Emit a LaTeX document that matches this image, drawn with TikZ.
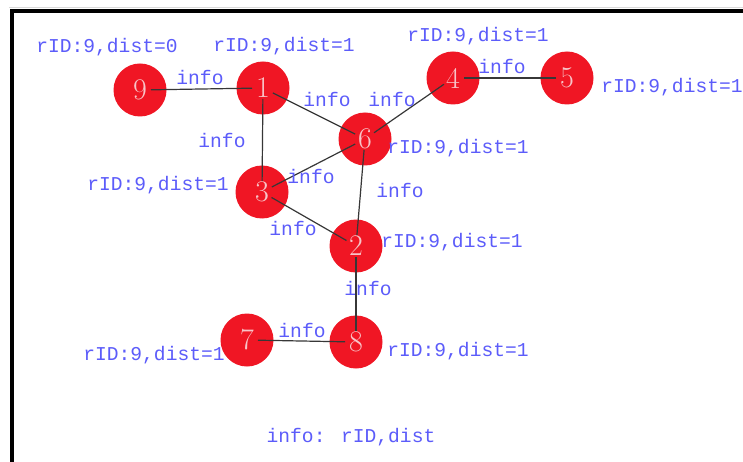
\documentclass[tikz,border=0pt]{standalone}
\usepackage{fontspec}
\newfontfamily\labfont{Liberation Mono}
\definecolor{nodered}{RGB}{240,22,36}
\definecolor{numcol}{RGB}{248,196,200}
\definecolor{labblue}{RGB}{92,92,250}
\definecolor{edgecol}{RGB}{55,55,55}
\begin{document}
\begin{tikzpicture}[x=1pt,y=-1pt,
  vert/.style={circle,fill=nodered,minimum size=53pt,inner sep=0pt,text=numcol,
    font=\fontsize{30}{30}\selectfont},
  lab/.style={text=labblue,inner sep=0pt,font=\labfont\fontsize{19.6}{20}\selectfont},
  edge/.style={draw=edgecol,line width=1.2pt,shorten >=11pt,shorten <=11pt}]
\useasboundingbox (0,0) rectangle (743,462);
\fill[white] (0,0) rectangle (743,462);
% frame
\draw[black!15,line width=1pt] (9,8) -- (743,8);
\draw[black,line width=3.5pt] (12,462) -- (12,11) -- (743,11);
% nodes
\node[vert] (n9) at (140,90) {9};
\node[vert] (n1) at (263,88) {1};
\node[vert] (n4) at (453,78) {4};
\node[vert] (n5) at (567,78) {5};
\node[vert] (n6) at (365,139) {6};
\node[vert] (n3) at (262,192) {3};
\node[vert] (n2) at (356,246) {2};
\node[vert] (n7) at (247,340) {7};
\node[vert] (n8) at (356,342) {8};
% edges
\draw[edge] (n9.center) -- (n1.center);
\draw[edge] (n1.center) -- (n6.center);
\draw[edge] (n1.center) -- (n3.center);
\draw[edge] (n6.center) -- (n4.center);
\draw[edge] (n4.center) -- (n5.center);
\draw[edge] (n3.center) -- (n6.center);
\draw[edge] (n6.center) -- (n2.center);
\draw[edge] (n3.center) -- (n2.center);
\draw[edge] (n2.center) -- (n8.center);
\draw[edge] (n7.center) -- (n8.center);
% node labels
\node[lab] (l9) at (107,47) {rID:9,dist=0};
\node[lab] (l1) at (284,46) {rID:9,dist=1};
\node[lab] (l4) at (478,36) {rID:9,dist=1};
\node[lab] (l5) at (672,87) {rID:9,dist=1};
\node[lab] (l6) at (458,148) {rID:9,dist=1};
\node[lab] (l3) at (158,185) {rID:9,dist=1};
\node[lab] (l2) at (452,242) {rID:9,dist=1};
\node[lab] (l7) at (154,355) {rID:9,dist=1};
\node[lab] (l8) at (458,351) {rID:9,dist=1};
% edge labels
\node[lab] (e91) at (200,77) {info};
\node[lab] (e16) at (327,99) {info};
\node[lab] (e64) at (392,99) {info};
\node[lab] (e45) at (502,66) {info};
\node[lab] (e13) at (222,140) {info};
\node[lab] (e36) at (311,176) {info};
\node[lab] (e62) at (400,190) {info};
\node[lab] (e32) at (293,228) {info};
\node[lab] (e28) at (368,288) {info};
\node[lab] (e78) at (302,330) {info};
% legend
\node[lab] (legend) at (351,437) {info: rID,dist};
\end{tikzpicture}
\end{document}
